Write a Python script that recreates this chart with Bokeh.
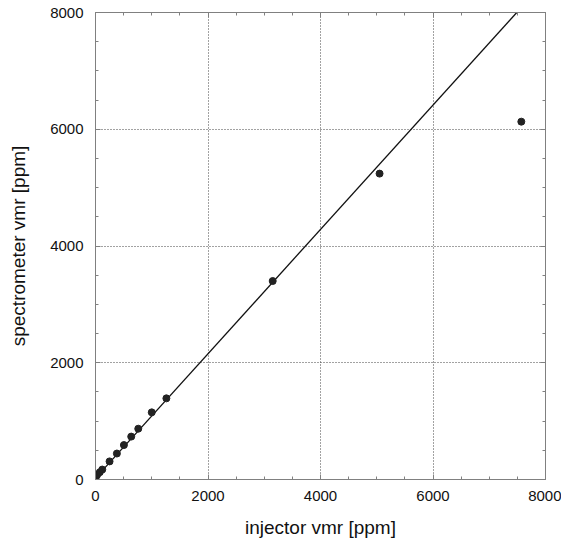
from bokeh.plotting import figure
from bokeh.models import FixedTicker, LinearAxis, Range1d
from bokeh.embed import file_html
from bokeh.resources import INLINE

# data
injector = [10, 30, 76, 120, 250, 380, 505, 635, 760, 1000, 1260, 3150, 5050, 7570]
spectrometer = [50, 80, 125, 170, 310, 445, 590, 735, 870, 1150, 1390, 3400, 5240, 6130]
fit_slope = 1.065
fit_intercept = 24.0
major_ticks = [0, 2000, 4000, 6000, 8000]
minor_ticks = [500, 1000, 1500, 2500, 3000, 3500, 4500, 5000, 5500, 6500, 7000, 7500]
grid_ticks = [2000, 4000, 6000]

FONT = "Liberation Sans"
FRAME = "#808080"

p = figure(width=561, height=540, output_backend="svg", toolbar_location=None,
           x_range=Range1d(0, 8000), y_range=Range1d(0, 8000),
           x_axis_label="injector vmr [ppm]", y_axis_label="spectrometer vmr [ppm]",
           min_border_left=95, min_border_right=16, min_border_top=12, min_border_bottom=61)
p.background_fill_color = "white"
p.border_fill_color = "white"
p.outline_line_color = FRAME
p.outline_line_width = 1

for ax in (p.xaxis[0], p.yaxis[0]):
    ax.ticker = FixedTicker(ticks=major_ticks, minor_ticks=minor_ticks)
    ax.major_tick_in = 5
    ax.major_tick_out = 0
    ax.minor_tick_in = 3
    ax.minor_tick_out = 0
    ax.axis_line_color = FRAME
    ax.major_tick_line_color = FRAME
    ax.minor_tick_line_color = FRAME
    ax.major_label_text_font = FONT
    ax.major_label_text_font_size = "15px"
    ax.major_label_text_color = "#111111"
    ax.axis_label_text_font = FONT
    ax.axis_label_text_font_size = "19px"
    ax.axis_label_text_font_style = "normal"
    ax.axis_label_text_color = "#111111"

p.xaxis[0].major_label_standoff = 11
p.xaxis[0].axis_label_standoff = 13
p.yaxis[0].major_label_standoff = 12
p.yaxis[0].axis_label_standoff = 18

for loc in ("above", "right"):
    ax = LinearAxis(ticker=FixedTicker(ticks=major_ticks, minor_ticks=minor_ticks),
                    major_tick_in=5, major_tick_out=0, minor_tick_in=3, minor_tick_out=0,
                    axis_line_color=FRAME, major_tick_line_color=FRAME,
                    minor_tick_line_color=FRAME,
                    major_label_overrides={t: "" for t in major_ticks},
                    major_label_standoff=0)
    p.add_layout(ax, loc)

p.xgrid.ticker = FixedTicker(ticks=grid_ticks)
p.ygrid.ticker = FixedTicker(ticks=grid_ticks)
for g in (p.xgrid[0], p.ygrid[0]):
    g.grid_line_color = "#444444"
    g.grid_line_dash = "1 2"
    g.grid_line_width = 1

x_end = (8000 - fit_intercept) / fit_slope
p.line([0, x_end], [fit_intercept, fit_intercept + fit_slope * x_end],
       line_color="#111111", line_width=1.3)
p.scatter(injector, spectrometer, size=7, fill_color="#222222", line_color="#222222")

open("out.html", "w").write(file_html(p, INLINE))
